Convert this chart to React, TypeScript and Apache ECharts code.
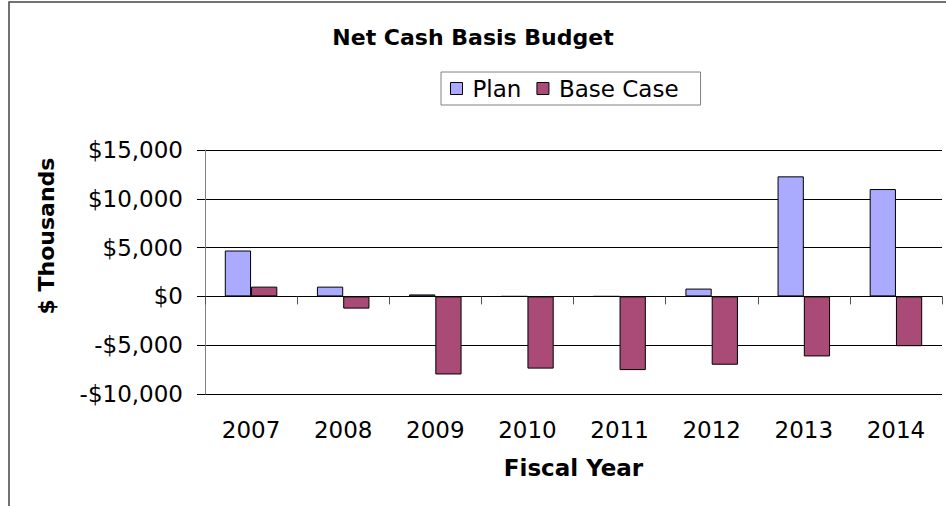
import React, { useEffect, useRef } from "react";
import * as echarts from "echarts";

const categories = ["2007", "2008", "2009", "2010", "2011", "2012", "2013", "2014"];
const planValues = [4700, 1000, 200, 0, 0, 800, 12300, 11000];
const baseCaseValues = [1000, -1250, -8000, -7400, -7550, -7000, -6150, -5100];
const yMin = -10000;
const yMax = 15000;
const yInterval = 5000;

const FONT = "Verdana, 'DejaVu Sans', sans-serif";

function fmt(v: number): string {
  const s = "$" + Math.abs(v).toLocaleString("en-US");
  return v < 0 ? "-" + s : s;
}

export default function App() {
  const ref = useRef<HTMLDivElement>(null);
  useEffect(() => {
    if (!ref.current) return;
    const chart = echarts.init(ref.current, null, { renderer: "svg" });
    chart.setOption({
      animation: false,
      backgroundColor: "#ffffff",
      title: {
        text: "Net Cash Basis Budget",
        left: "center",
        top: 21,
        textStyle: { fontFamily: FONT, fontSize: 22, fontWeight: "bold", color: "#000" },
      },
      legend: {
        data: ["Plan", "Base Case"],
        left: 441,
        top: 72,
        orient: "horizontal",
        icon: "rect",
        itemWidth: 12,
        itemHeight: 12,
        itemGap: 15,
        padding: [5, 22, 5, 9],
        borderColor: "#808080",
        borderWidth: 1,
        itemStyle: { borderColor: "#000", borderWidth: 1 },
        textStyle: { fontFamily: FONT, fontSize: 23, color: "#000", padding: [0, 0, 0, 5] },
      },
      grid: { left: 205, right: 4, top: 150, bottom: 112, containLabel: false },
      xAxis: [
        {
          type: "category",
          data: categories,
          axisLine: { onZero: true, lineStyle: { color: "#000", width: 1 } },
          axisTick: { show: true, length: 8, lineStyle: { color: "#555" } },
          axisLabel: { show: false },
          splitLine: { show: false },
        },
        {
          type: "category",
          data: categories,
          position: "bottom",
          axisLine: { show: false, onZero: false },
          axisTick: { show: false },
          axisLabel: { show: true, margin: 24, fontFamily: FONT, fontSize: 23, color: "#000" },
          name: "Fiscal Year",
          nameLocation: "middle",
          nameGap: 62,
          nameTextStyle: { fontFamily: FONT, fontSize: 23, fontWeight: "bold", color: "#000" },
        },
      ],
      yAxis: {
        type: "value",
        min: yMin,
        max: yMax,
        interval: yInterval,
        axisLine: { show: true, lineStyle: { color: "#808080", width: 1 } },
        axisTick: { show: true, length: 8, lineStyle: { color: "#000" } },
        axisLabel: { margin: 22, fontFamily: FONT, fontSize: 23, color: "#000", formatter: fmt },
        splitLine: { show: true, lineStyle: { color: "#000", width: 1 } },
      },
      graphic: [
        {
          type: "rect",
          shape: { x: 9, y: 2, width: 1000, height: 600 },
          style: { fill: "none", stroke: "#444", lineWidth: 1.5 },
          silent: true,
          z: 100,
        },
        {
          type: "text",
          x: 46,
          y: 236,
          rotation: Math.PI / 2,
          style: {
            text: "$ Thousands",
            fontFamily: FONT,
            fontSize: 22,
            fontWeight: "bold",
            fill: "#000",
            align: "center",
            verticalAlign: "middle",
          },
        },
      ],
      series: [
        {
          name: "Plan",
          type: "bar",
          xAxisIndex: 0,
          data: planValues,
          barGap: "0%",
          barCategoryGap: "43%",
          itemStyle: { color: "#AAAAFF", borderColor: "#000", borderWidth: 1 },
        },
        {
          name: "Base Case",
          type: "bar",
          xAxisIndex: 0,
          data: baseCaseValues,
          barGap: "0%",
          barCategoryGap: "43%",
          itemStyle: { color: "#AA4A76", borderColor: "#000", borderWidth: 1 },
        },
      ],
    });
    return () => chart.dispose();
  }, []);
  return (
    <div
      ref={ref}
      style={{ position: "fixed", left: 0, top: 0, width: 946, height: 506 }}
    />
  );
}
